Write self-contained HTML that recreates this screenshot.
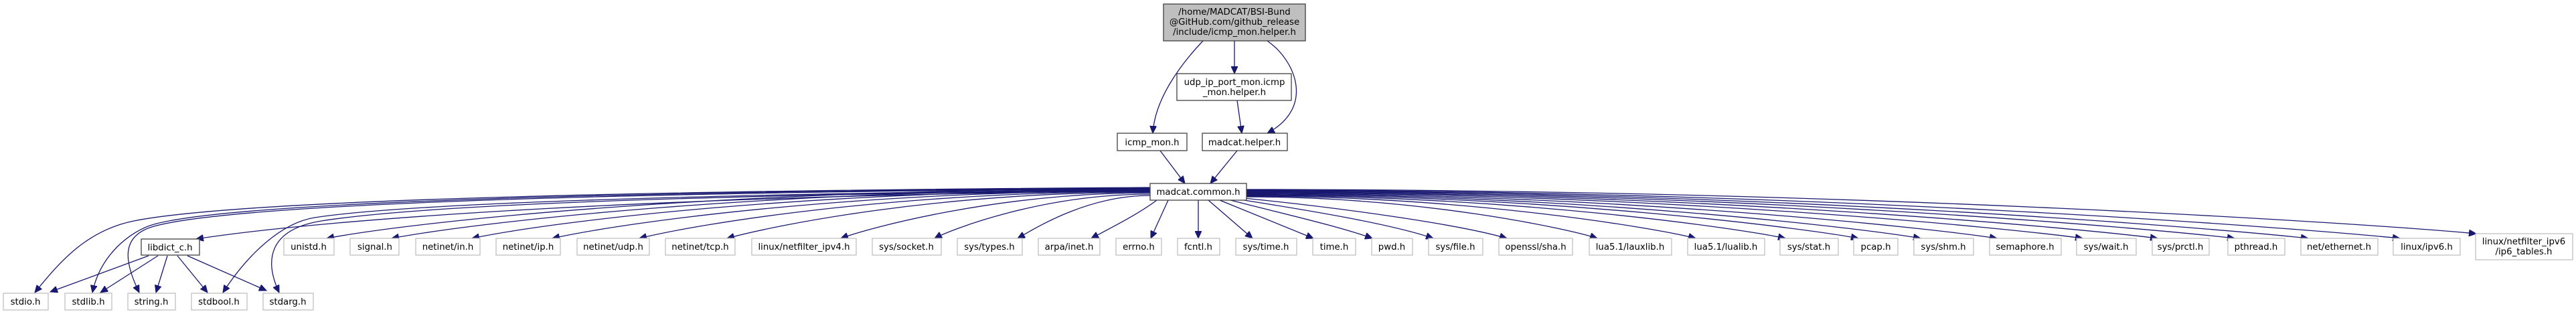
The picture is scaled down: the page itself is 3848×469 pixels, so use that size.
<!DOCTYPE html>
<html><head><meta charset="utf-8"><style>
html,body{margin:0;padding:0;background:#fff;}
svg{display:block;}
text{font-family:"DejaVu Sans","Liberation Sans",sans-serif;font-size:13.3px;fill:#000;text-anchor:middle;}
.g{fill:#fff;stroke:#c0c0c0;stroke-width:1.3;}
.b{fill:#fff;stroke:#404040;stroke-width:1.3;}
path.e{fill:none;stroke:#191970;stroke-width:1.3;}
</style></head><body>
<svg width="3848" height="469" viewBox="0 0 3848 469" xmlns="http://www.w3.org/2000/svg">
<defs>
<marker id="a" markerUnits="userSpaceOnUse" markerWidth="12" markerHeight="10" refX="11" refY="5" orient="auto">
<path d="M0,0 L11,5 L0,10 Z" fill="#191970" stroke="#191970"/>
</marker>
</defs>
<g marker-end="url(#a)">
<!-- top edges -->
<path class="e" d="M1797,61 C1760,100 1725,150 1722,199"/>
<path class="e" d="M1844,61 L1844,110"/>
<path class="e" d="M1893,61 C1935,90 1965,160 1893,199"/>
<path class="e" d="M1848,150 L1855,199"/>
<path class="e" d="M1733,225 L1770,274"/>
<path class="e" d="M1848,225 L1808,274"/>
<!-- lower-left from common -->
<path class="e" d="M1718,280 C900,285 350,300 200,330 C130,344 90,390 52,437"/>
<path class="e" d="M1718,281 C900,286 350,302 230,335 C195,345 150,380 138,437"/>
<path class="e" d="M1718,282 C900,287 350,305 230,338 C180,352 185,390 208,437"/>
<path class="e" d="M1718,283 C1000,290 600,305 470,325 C420,333 370,380 333,437"/>
<path class="e" d="M1718,284 C1000,291 620,308 480,330 C400,343 395,390 417,437"/>
<path class="e" d="M1718,285 C1000,292 500,325 293,357"/>
<!-- far-left -->
<path class="e" d="M1718,282 C1103,282 638,328 488,356"/>
<path class="e" d="M1718,283 C1151,283 725,330 585,356"/>
<path class="e" d="M1718,284 C1210,284 830,330 705,356"/>
<path class="e" d="M1718,285 C1270,285 935,332 825,356"/>
<path class="e" d="M1718,286 C1335,286 1045,334 955,356"/>
<path class="e" d="M1718,287 C1400,287 1160,336 1086,356"/>
<path class="e" d="M1718,288 C1490,288 1300,340 1256,356"/>
<path class="e" d="M1718,290 C1556,290 1420,343 1396,356"/>
<path class="e" d="M1718,292 C1620,292 1540,345 1520,356"/>
<path class="e" d="M1728,299 C1700,320 1660,340 1630,356"/>
<!-- near -->
<path class="e" d="M1745,299 L1719,356"/>
<path class="e" d="M1790,299 L1790,356"/>
<path class="e" d="M1805,299 L1871,356"/>
<path class="e" d="M1822,299 L1962,356"/>
<path class="e" d="M1838,299 C1920,320 2000,338 2050,356"/>
<path class="e" d="M1852,298 C1960,315 2080,335 2141,356"/>
<path class="e" d="M1858,296 C2000,310 2180,335 2251,356"/>
<!-- far-right -->
<path class="e" d="M1862,294 C2124,294 2344,342 2386,356"/>
<path class="e" d="M1862,293 C2197,293 2480,342 2533,356"/>
<path class="e" d="M1862,292 C2265,292 2603,342 2667,356"/>
<path class="e" d="M1862,291 C2319,291 2703,342 2776,356"/>
<path class="e" d="M1862,290 C2365,290 2789,342 2869,356"/>
<path class="e" d="M1862,289 C2422,289 2893,342 2983,356"/>
<path class="e" d="M1862,288 C2486,288 3011,342 3111,356"/>
<path class="e" d="M1862,287 C2542,287 3114,342 3223,356"/>
<path class="e" d="M1862,286 C2600,286 3220,342 3338,356"/>
<path class="e" d="M1862,285 C2655,285 3320,342 3448,356"/>
<path class="e" d="M1862,284 C2723,284 3447,342 3585,356"/>
<path class="e" d="M1862,283 C2780,283 3550,335 3699,349"/>
<!-- libdict -->
<path class="e" d="M222,382 L75,436"/>
<path class="e" d="M236,382 L150,437"/>
<path class="e" d="M250,382 L233,437"/>
<path class="e" d="M265,382 L310,437"/>
<path class="e" d="M280,382 L398,434"/>
</g>

<!-- nodes -->
<rect x="1738" y="6" width="212" height="55" fill="#bfbfbf" stroke="#404040" stroke-width="1.3"/>
<text x="1844" y="22">/home/MADCAT/BSI-Bund</text>
<text x="1844" y="37">@GitHub.com/github_release</text>
<text x="1844" y="52">/include/icmp_mon.helper.h</text>

<rect class="b" x="1758" y="110" width="171" height="40"/>
<text x="1844" y="127">udp_ip_port_mon.icmp</text>
<text x="1844" y="142">_mon.helper.h</text>

<rect class="b" x="1669" y="199" width="104" height="26"/><text x="1721" y="217">icmp_mon.h</text>
<rect class="b" x="1796" y="199" width="127" height="26"/><text x="1859" y="217">madcat.helper.h</text>
<rect class="b" x="1718" y="274" width="144" height="25"/><text x="1790" y="291">madcat.common.h</text>
<rect class="b" x="211" y="357" width="87" height="24"/><text x="254" y="374">libdict_c.h</text>

<g>
<rect class="g" x="5" y="438" width="67" height="25"/><text x="38" y="455">stdio.h</text>
<rect class="g" x="97" y="438" width="70" height="25"/><text x="132" y="455">stdlib.h</text>
<rect class="g" x="191" y="438" width="71" height="25"/><text x="226" y="455">string.h</text>
<rect class="g" x="286" y="438" width="83" height="25"/><text x="327" y="455">stdbool.h</text>
<rect class="g" x="393" y="438" width="75" height="25"/><text x="430" y="455">stdarg.h</text>

<rect class="g" x="424" y="356" width="75" height="25"/><text x="461" y="373">unistd.h</text>
<rect class="g" x="523" y="356" width="73" height="25"/><text x="560" y="373">signal.h</text>
<rect class="g" x="621" y="356" width="96" height="25"/><text x="669" y="373">netinet/in.h</text>
<rect class="g" x="741" y="356" width="96" height="25"/><text x="789" y="373">netinet/ip.h</text>
<rect class="g" x="862" y="356" width="108" height="25"/><text x="916" y="373">netinet/udp.h</text>
<rect class="g" x="994" y="356" width="104" height="25"/><text x="1046" y="373">netinet/tcp.h</text>
<rect class="g" x="1123" y="356" width="156" height="25"/><text x="1201" y="373">linux/netfilter_ipv4.h</text>
<rect class="g" x="1303" y="356" width="103" height="25"/><text x="1354" y="373">sys/socket.h</text>
<rect class="g" x="1430" y="356" width="97" height="25"/><text x="1478" y="373">sys/types.h</text>
<rect class="g" x="1551" y="356" width="92" height="25"/><text x="1597" y="373">arpa/inet.h</text>
<rect class="g" x="1667" y="356" width="68" height="25"/><text x="1701" y="373">errno.h</text>
<rect class="g" x="1759" y="356" width="63" height="25"/><text x="1790" y="373">fcntl.h</text>
<rect class="g" x="1846" y="356" width="91" height="25"/><text x="1891" y="373">sys/time.h</text>
<rect class="g" x="1961" y="356" width="64" height="25"/><text x="1993" y="373">time.h</text>
<rect class="g" x="2049" y="356" width="61" height="25"/><text x="2079" y="373">pwd.h</text>
<rect class="g" x="2134" y="356" width="81" height="25"/><text x="2174" y="373">sys/file.h</text>
<rect class="g" x="2239" y="356" width="110" height="25"/><text x="2294" y="373">openssl/sha.h</text>
<rect class="g" x="2374" y="356" width="123" height="25"/><text x="2435" y="373">lua5.1/lauxlib.h</text>
<rect class="g" x="2521" y="356" width="115" height="25"/><text x="2578" y="373">lua5.1/lualib.h</text>
<rect class="g" x="2659" y="356" width="87" height="25"/><text x="2702" y="373">sys/stat.h</text>
<rect class="g" x="2769" y="356" width="66" height="25"/><text x="2802" y="373">pcap.h</text>
<rect class="g" x="2859" y="356" width="89" height="25"/><text x="2903" y="373">sys/shm.h</text>
<rect class="g" x="2972" y="356" width="107" height="25"/><text x="3025" y="373">semaphore.h</text>
<rect class="g" x="3102" y="356" width="89" height="25"/><text x="3146" y="373">sys/wait.h</text>
<rect class="g" x="3215" y="356" width="85" height="25"/><text x="3257" y="373">sys/prctl.h</text>
<rect class="g" x="3328" y="356" width="85" height="25"/><text x="3370" y="373">pthread.h</text>
<rect class="g" x="3437" y="356" width="115" height="25"/><text x="3494" y="373">net/ethernet.h</text>
<rect class="g" x="3575" y="356" width="100" height="25"/><text x="3625" y="373">linux/ipv6.h</text>
<rect class="g" x="3698" y="349" width="145" height="39"/>
<text x="3770" y="365">linux/netfilter_ipv6</text>
<text x="3770" y="380">/ip6_tables.h</text>
</g>
</svg>
</body></html>
